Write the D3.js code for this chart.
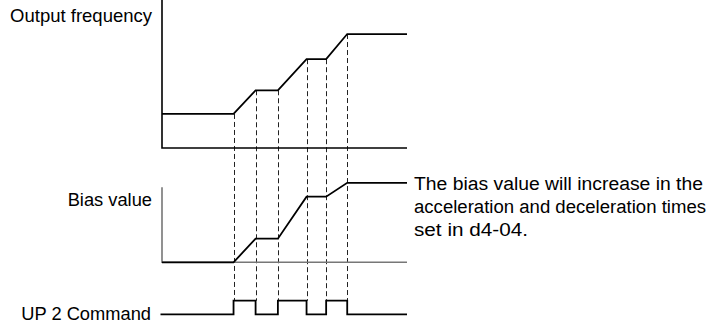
<!DOCTYPE html>
<html><head><meta charset="utf-8">
<script src="https://cdn.jsdelivr.net/npm/d3@7"></script>
<style>html,body{margin:0;padding:0;background:#fff;}svg{display:block;}</style>
</head><body>
<svg id="c" width="709" height="327"></svg>
<script>
// Time breakpoints (arbitrary time units)
const times = [0, 29.2, 38.2, 47.3, 59.0, 67.0, 75.6, 100];
// Output frequency levels at each breakpoint (0..100 of axis)
const freqValues = [23, 23, 39, 39, 60, 60, 77, 77];
// Bias value levels at each breakpoint
const biasValues = [0, 0, 31.5, 31.5, 87.5, 87.5, 106, 106];
// UP 2 command state per interval (between breakpoints)
const cmdStates = [0, 1, 0, 1, 0, 1, 0];
const labels = ["Output frequency", "Bias value", "UP 2 Command"];
const noteLines = ["The bias value will increase in the", "acceleration and deceleration times", "set in d4-04."];

const svg = d3.select("#c");
const font = "'Liberation Sans', Arial, sans-serif";

const x = d3.scaleLinear().domain([0, 100]).range([162, 407]);
const yF = d3.scaleLinear().domain([0, 100]).range([148, 0]);
const yB = d3.scaleLinear().domain([0, 100]).range([262.3, 187.3]);
const yC = d3.scaleLinear().domain([0, 1]).range([314.3, 300.7]);

// dashed guide lines at event times
const events = times.slice(1, 7);
svg.selectAll("line.guide").data(events).enter().append("line")
  .attr("x1", d => Math.round(x(d)) + 0.5).attr("x2", d => Math.round(x(d)) + 0.5)
  .attr("y1", (d, i) => yF(freqValues[i + 1])).attr("y2", yC(1))
  .attr("stroke", "#222").attr("stroke-width", 1).attr("stroke-dasharray", "5,3");

// top axes
svg.append("path").attr("d", `M${x(0)},0 V${yF(0)} H${x(100)}`)
  .attr("fill", "none").attr("stroke", "#000").attr("stroke-width", 1.6);
// bias axes (gray)
svg.append("path").attr("d", `M${x(0)},${yB(100)} V${yB(0)} H${x(100)}`)
  .attr("fill", "none").attr("stroke", "#777").attr("stroke-width", 1.6);

const line = (ys) => d3.line().x((d, i) => x(times[i])).y(d => ys(d));

svg.append("path").datum(freqValues).attr("d", line(yF))
  .attr("fill", "none").attr("stroke", "#000").attr("stroke-width", 1.8);
svg.append("path").datum(biasValues).attr("d", line(yB))
  .attr("fill", "none").attr("stroke", "#000").attr("stroke-width", 1.8);

// command step line
const cmdPts = [[x(0) - 1.5, yC(cmdStates[0])]];
cmdStates.forEach((s, i) => {
  cmdPts.push([x(times[i]), yC(s)]);
  cmdPts.push([x(times[i + 1]), yC(s)]);
});
svg.append("path").attr("d", d3.line()(cmdPts))
  .attr("fill", "none").attr("stroke", "#000").attr("stroke-width", 1.8);

// labels
svg.append("text").attr("x", 152).attr("y", 21.5).attr("text-anchor", "end")
  .attr("font-family", font).attr("font-size", 18.5).text(labels[0]);
svg.append("text").attr("x", 152).attr("y", 205.5).attr("text-anchor", "end")
  .attr("font-family", font).attr("font-size", 18.3).text(labels[1]);
svg.append("text").attr("x", 151).attr("y", 319.5).attr("text-anchor", "end")
  .attr("font-family", font).attr("font-size", 18.3).text(labels[2]);

// note
const noteWidths = [289, 292, 114];
svg.selectAll("text.note").data(noteLines).enter().append("text")
  .attr("class", "note").attr("font-family", font).attr("font-size", 18.8)
  .attr("x", 414).attr("y", (d, i) => 189.5 + i * 23)
  .attr("textLength", (d, i) => noteWidths[i]).attr("lengthAdjust", "spacingAndGlyphs")
  .text(d => d);
</script>
</body></html>
